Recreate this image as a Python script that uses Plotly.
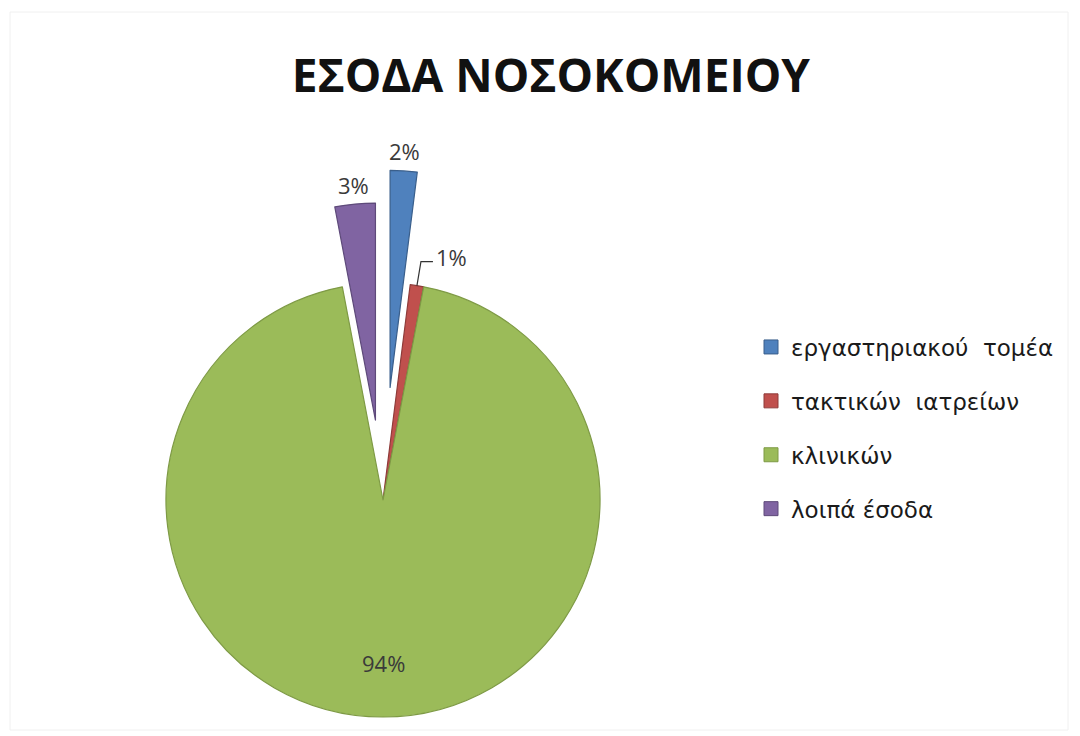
import numpy as np
import plotly.graph_objects as go

# Hospital revenue breakdown
categories = ["εργαστηριακού  τομέα", "τακτικών  ιατρείων", "κλινικών", "λοιπά έσοδα"]
values = [2, 1, 94, 3]
colors = ["#4F81BD", "#C0504D", "#9BBB59", "#8064A2"]
edge_colors = ["#3A5F8C", "#8E3B39", "#7E9A45", "#5E4A7A"]
explode = [0.52, 0.0, 0.0, 0.37]          # fraction of radius each slice is pulled out
title_text = "ΕΣΟΔΑ ΝΟΣΟΚΟΜΕΙΟΥ"

W, H = 1080, 736
CX, CY, R = 383, 500, 217                 # pie centre and radius in pixels
CLEAR = "rgba(0,0,0,0)"
LABEL_FONT = dict(family="Open Sans, sans-serif", size=22, color="#3a3a3a")

vals = np.array(values, dtype=float)
share = vals / vals.sum()
mid_rad = np.radians((np.cumsum(vals) - vals / 2) / vals.sum() * 360.0)


def px(x, y):
    """pixel position -> paper coordinates"""
    return x / W, 1 - y / H


def domain_for(cx, cy):
    return dict(x=[(cx - R) / W, (cx + R) / W],
                y=[1 - (cy + R) / H, 1 - (cy - R) / H])


def pie_layer(show, cx, cy):
    n = len(values)
    fill = [colors[i] if i in show else CLEAR for i in range(n)]
    line = [edge_colors[i] if i in show else CLEAR for i in range(n)]
    return go.Pie(
        labels=categories, values=values, sort=False, direction="clockwise",
        rotation=0, domain=domain_for(cx, cy),
        marker=dict(colors=fill, line=dict(color=line, width=1.2)),
        textinfo="none", showlegend=False, hoverinfo="label+percent",
    )


fig = go.Figure()

# slice centres (exploded slices are shifted outward along their bisector)
centres = []
for i, p in enumerate(explode):
    centres.append((CX + p * R * np.sin(mid_rad[i]), CY - p * R * np.cos(mid_rad[i])))

fixed = [i for i, p in enumerate(explode) if p == 0]
fig.add_trace(pie_layer(fixed, CX, CY))
for i, p in enumerate(explode):
    if p > 0:
        fig.add_trace(pie_layer([i], *centres[i]))

# percentage labels
annotations, shapes = [], []
for i in range(len(values)):
    txt = f"{share[i]:.0%}"
    sx, sy = centres[i]
    s, c = np.sin(mid_rad[i]), np.cos(mid_rad[i])
    common = dict(xref="paper", yref="paper", showarrow=False, font=LABEL_FONT,
                  yanchor="middle")
    if share[i] > 0.5:
        x, y = px(sx + 0.75 * R * s, sy - 0.75 * R * c)
        annotations.append(dict(x=x, y=y, text=txt, xanchor="center", **common))
    elif explode[i] > 0:
        x, y = px(sx + 1.09 * R * s, sy - 1.09 * R * c)
        annotations.append(dict(x=x, y=y, text=txt, xanchor="center", **common))
    else:
        # label with an elbow leader line from the slice edge
        ex, ey = sx + R * s, sy - R * c
        kx, ky = ex + 4, ey - 24
        tx = kx + 12
        shapes.append(dict(type="path", xref="paper", yref="paper",
                           path=f"M {ex / W},{1 - ey / H} L {kx / W},{1 - ky / H} L {tx / W},{1 - ky / H}",
                           line=dict(color="#333333", width=1.2)))
        x, y = px(tx + 1, ky - 5)
        annotations.append(dict(x=x, y=y, text=txt, xanchor="left", **common))

# legend entries
for i, name in enumerate(categories):
    fig.add_trace(go.Scatter(
        x=[None], y=[None], mode="markers", name=name, legendgroup=f"g{i}",
        marker=dict(symbol="square", size=14, color=colors[i],
                    line=dict(color=edge_colors[i], width=1)),
    ))

shapes.append(dict(type="rect", xref="paper", yref="paper", x0=10 / W, x1=1068 / W,
                   y0=1 - 730 / H, y1=1 - 12 / H,
                   line=dict(color="#f0f0f0", width=1), layer="below"))

fig.update_layout(
    width=W, height=H,
    margin=dict(l=0, r=0, t=0, b=0),
    paper_bgcolor="white", plot_bgcolor="white",
    title=dict(text=f"<b>{title_text}</b>", x=0.51, xanchor="center",
               y=1 - 76 / H, yanchor="middle",
               font=dict(family="Open Sans, sans-serif", size=46, color="#111111")),
    xaxis=dict(visible=False), yaxis=dict(visible=False),
    legend=dict(x=751 / W, xanchor="left", y=1 - 428 / H, yanchor="middle",
                font=dict(family="DejaVu Sans, sans-serif", size=23, color="#1a1a1a"),
                tracegroupgap=21, bgcolor="rgba(0,0,0,0)"),
    annotations=annotations,
    shapes=shapes,
)

fig.write_html("out.html")
